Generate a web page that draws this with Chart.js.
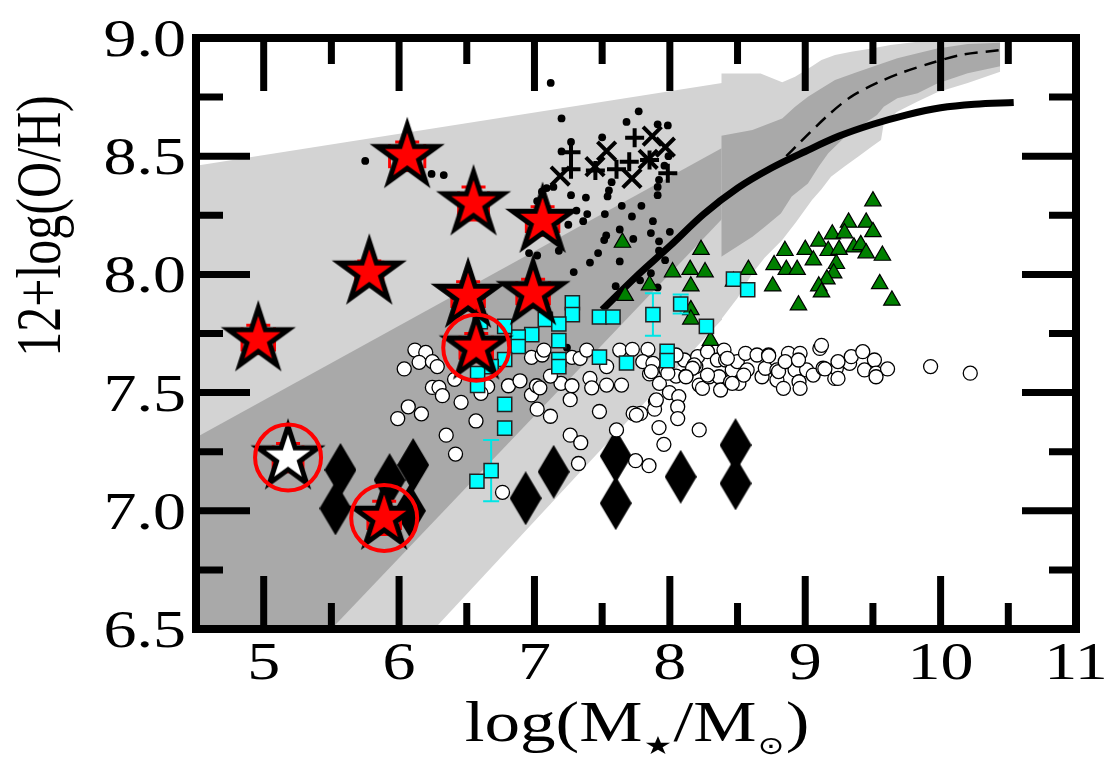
<!DOCTYPE html>
<html>
<head>
<meta charset="utf-8">
<script src="https://cdn.jsdelivr.net/npm/chart.js@4.4.1/dist/chart.umd.min.js"></script>
<style>
  html, body { margin: 0; background: #fff; }
</style>
</head>
<body>
<canvas id="chart" width="1113" height="762"></canvas>
<script>
// axis ticks
const xTicks = [5, 6, 7, 8, 9, 10, 11];
const xTickLabels = ['5', '6', '7', '8', '9', '10', '11'];
const xMinor = [5.5, 6.5, 7.5, 8.5, 9.5, 10.5];
const yTicks = [6.5, 7.0, 7.5, 8.0, 8.5, 9.0];
const yTickLabels = ['6.5', '7.0', '7.5', '8.0', '8.5', '9.0'];
const yMinor = [6.75, 7.25, 7.75, 8.25, 8.75];

// model bands (low mass, straight) -- upper / lower edges
const linLightUpper = [[4.5, 8.46], [8.386, 8.81]];
const linLightLower = [[4.5, 6.5], [6.26, 6.5], [8.386, 7.81]];
const linDarkUpper = [[4.5, 7.31], [8.386, 8.535]];
const linDarkLower = [[4.5, 6.5], [5.50, 6.5], [8.386, 8.235]];

// model bands (high mass, jagged)
const jagLightUpper = [[8.38, 8.85], [8.67, 8.85], [8.83, 8.813], [8.925, 8.836], [9.05, 8.88], [9.12, 8.907],
  [9.22, 8.928], [9.34, 8.942], [9.49, 8.956], [9.63, 8.97], [9.83, 8.984], [9.975, 8.99], [10.44, 8.99]];
const jagLightLower = [[8.38, 7.81], [8.50, 7.90], [8.61, 8.005], [8.70, 8.07], [8.83, 8.146], [8.93, 8.22],
  [9.05, 8.315], [9.12, 8.36], [9.19, 8.413], [9.29, 8.456], [9.39, 8.498], [9.49, 8.54], [9.56, 8.569],
  [9.58, 8.639], [9.68, 8.688], [9.83, 8.731], [9.975, 8.77], [10.2, 8.81], [10.44, 8.857]];
const jagDarkUpper = [[8.38, 8.587], [8.61, 8.611], [8.83, 8.66], [8.925, 8.709], [9.02, 8.752], [9.10, 8.78],
  [9.22, 8.822], [9.39, 8.857], [9.535, 8.886], [9.68, 8.914], [9.83, 8.935], [9.975, 8.956], [10.2, 8.975], [10.44, 8.98]];
const jagDarkLower = [[8.38, 8.075], [8.61, 8.159], [8.70, 8.20], [8.82, 8.258], [8.90, 8.329], [9.02, 8.385],
  [9.10, 8.456], [9.17, 8.512], [9.27, 8.569], [9.34, 8.611], [9.44, 8.639], [9.53, 8.674], [9.58, 8.709],
  [9.68, 8.745], [9.83, 8.766], [9.975, 8.808], [10.2, 8.851], [10.44, 8.88]];

const medianDashed = [[8.86, 8.50], [8.95, 8.552], [9.17, 8.674], [9.34, 8.752], [9.535, 8.811], [9.73, 8.857],
  [9.926, 8.893], [10.146, 8.928], [10.44, 8.949]];

const mzrCurve = [[7.50, 7.85], [7.75, 7.99], [8.00, 8.12], [8.25, 8.255], [8.50, 8.365], [8.75, 8.45],
  [9.00, 8.52], [9.25, 8.585], [9.50, 8.635], [9.75, 8.675], [10.00, 8.705], [10.25, 8.72], [10.54, 8.727]];

// black dots
const dotPts = [[7.12, 8.81], [5.75, 8.48], [6.24, 8.425], [6.33, 8.42], [7.20, 8.66], [7.77, 8.69], [7.68, 8.645],
  [7.91, 8.635], [7.985, 8.63], [7.50, 8.58], [7.27, 8.56], [7.20, 8.52], [7.99, 8.50], [7.96, 8.46], [7.09, 8.365],
  [7.14, 8.37], [7.055, 8.35], [7.27, 8.335], [7.38, 8.325], [7.54, 8.33], [7.57, 8.39], [7.91, 8.37], [7.91, 8.335],
  [7.02, 8.31], [7.31, 8.27], [7.39, 8.255], [7.645, 8.29], [7.79, 8.29], [7.52, 8.255], [7.72, 8.245], [7.36, 8.225],
  [7.25, 8.21], [7.875, 8.225], [7.63, 8.19], [7.53, 8.165], [7.515, 8.145], [7.86, 8.175], [8.0, 8.18], [7.73, 8.15],
  [7.92, 8.14], [6.96, 8.09], [7.02, 8.08], [7.47, 8.09], [7.41, 8.05], [7.63, 8.055], [7.965, 8.06], [7.92, 8.10],
  [7.29, 8.01], [7.60, 7.95], [7.86, 8.005], [7.78, 7.975], [7.91, 7.945], [7.55, 8.355], [7.92, 8.40], [7.24, 7.69],
  [7.18, 8.10]];
const plusPts = [[7.27, 8.517], [7.27, 8.445], [7.74, 8.578], [7.70, 8.477], [7.606, 8.445], [7.985, 8.428],
  [7.85, 8.484], [7.45, 8.44]];
const crossPts = [[7.19, 8.416], [7.533, 8.522], [7.447, 8.456], [7.87, 8.585], [7.967, 8.538], [7.84, 8.487], [7.72, 8.406]];

// green triangles
const triPts = [[9.50, 8.31], [9.32, 8.22], [9.45, 8.22], [9.50, 8.18], [9.20, 8.17], [9.29, 8.175], [9.10, 8.14],
  [9.00, 8.105], [8.85, 8.10], [9.17, 8.10], [9.25, 8.105], [9.36, 8.115], [9.41, 8.125], [9.45, 8.09], [9.57, 8.08],
  [8.77, 8.04], [8.86, 8.02], [8.94, 8.02], [9.06, 8.06], [9.23, 8.045], [9.21, 8.005], [9.16, 7.98], [9.10, 7.95],
  [9.12, 7.925], [8.76, 7.95], [8.58, 8.02], [9.55, 7.96], [9.64, 7.89], [8.95, 7.87], [8.23, 8.105], [8.15, 8.02],
  [8.26, 8.01], [8.155, 7.95], [8.155, 7.85], [8.155, 7.81], [8.30, 7.72], [7.65, 8.135], [7.85, 7.955], [8.02, 8.01],
  [7.67, 7.91], [8.47, 7.97]];

// cyan squares and their vertical errors
const sqPts = [[7.28, 7.88], [7.28, 7.83], [7.08, 7.81], [7.18, 7.79], [7.48, 7.82], [7.58, 7.82], [7.875, 7.83],
  [8.08, 7.875], [8.27, 7.78], [6.98, 7.745], [6.88, 7.735], [6.88, 7.695], [6.78, 7.78], [7.18, 7.72], [7.18, 7.64],
  [7.18, 7.61], [6.78, 7.64], [6.68, 7.61], [6.58, 7.58], [6.58, 7.53], [7.48, 7.65], [7.68, 7.625], [7.98, 7.675],
  [7.98, 7.635], [6.78, 7.45], [6.78, 7.35], [6.68, 7.17], [6.575, 7.125], [6.60, 7.80], [8.47, 7.98], [8.575, 7.935]];
const sqErrY = [0, 0, 0, 0, 0, 0, 0.09, 0.04, 0, 0, 0, 0, 0, 0, 0, 0, 0, 0, 0, 0, 0, 0, 0, 0, 0, 0, 0.13, 0, 0, 0, 0];

// open circles
const openPts = [[6.117, 7.68], [6.197, 7.67], [6.148, 7.628], [6.246, 7.631], [6.282, 7.61], [6.038, 7.60],
  [6.41, 7.556], [6.246, 7.522], [6.295, 7.522], [6.32, 7.487], [6.458, 7.459], [6.068, 7.44], [6.165, 7.41],
  [5.99, 7.39], [6.568, 7.38], [6.348, 7.32], [6.417, 7.24], [6.764, 7.078], [6.654, 7.525], [6.605, 7.497],
  [6.808, 7.529], [6.893, 7.55], [6.978, 7.49], [7.015, 7.529], [7.04, 7.52], [7.02, 7.43], [7.118, 7.40],
  [7.196, 7.539], [7.277, 7.529], [7.264, 7.47], [7.118, 7.57], [6.978, 7.649], [7.057, 7.659], [7.07, 7.68],
  [7.277, 7.649], [7.337, 7.645], [7.386, 7.68], [7.41, 7.56], [7.423, 7.52], [7.533, 7.532], [7.643, 7.532],
  [7.533, 7.61], [7.63, 7.68], [7.723, 7.683], [7.838, 7.683], [7.80, 7.631], [7.875, 7.624], [7.85, 7.579],
  [7.923, 7.539], [7.997, 7.50], [8.066, 7.483], [8.058, 7.44], [7.894, 7.462], [7.887, 7.43], [8.058, 7.39],
  [7.92, 7.352], [7.956, 7.281], [7.729, 7.412], [7.784, 7.412], [7.48, 7.42], [7.264, 7.32], [7.342, 7.288],
  [7.325, 7.20], [7.606, 7.342], [7.747, 7.212], [7.846, 7.191], [8.217, 7.342], [7.972, 7.596], [8.046, 7.57],
  [8.119, 7.57], [8.192, 7.61], [8.217, 7.532], [8.107, 7.638], [8.205, 7.652], [7.753, 7.405], [7.90, 7.469],
  [7.863, 7.589], [7.985, 7.582], [8.046, 7.659], [8.18, 7.617], [8.241, 7.518], [8.278, 7.673], [8.29, 7.567],
  [8.351, 7.638], [8.363, 7.567], [8.375, 7.511], [8.40, 7.68], [8.412, 7.638], [8.449, 7.546], [8.461, 7.596],
  [8.498, 7.631], [8.51, 7.539], [8.559, 7.666], [8.571, 7.596], [8.644, 7.659], [8.681, 7.567], [8.729, 7.659],
  [8.705, 7.603], [8.791, 7.596], [8.791, 7.553], [8.839, 7.518], [8.864, 7.631], [8.876, 7.666], [8.925, 7.596],
  [8.954, 7.546], [8.962, 7.666], [9.01, 7.596], [9.059, 7.574], [9.108, 7.687], [9.132, 7.603], [9.218, 7.56],
  [9.23, 7.603], [9.328, 7.624], [9.34, 7.652], [9.425, 7.673], [9.438, 7.596], [9.511, 7.638], [9.523, 7.582],
  [9.608, 7.60], [9.926, 7.61], [10.219, 7.582], [8.168, 7.603], [8.425, 7.645], [8.546, 7.574], [8.803, 7.589],
  [8.852, 7.631], [8.95, 7.638], [9.145, 7.60], [9.242, 7.56], [9.242, 7.631], [8.962, 7.518], [8.461, 7.539],
  [8.278, 7.574], [8.119, 7.567], [9.12, 7.70], [9.523, 7.567], [8.73, 7.655]];

// black thin diamonds
const diaPts = [[5.567, 7.173], [5.53, 7.01], [5.93, 7.13], [6.104, 7.194], [6.08, 7.0], [6.935, 7.053],
  [7.142, 7.165], [7.60, 7.232], [7.60, 7.032], [8.08, 7.144], [8.485, 7.278], [8.485, 7.116]];

// red stars, with small x/y errors
const starPts = [[6.06, 8.50], [6.55, 8.30], [7.06, 8.226], [5.78, 8.007], [6.51, 7.909], [6.99, 7.92],
  [4.96, 7.725], [6.57, 7.69], [5.89, 6.97]];
const starErrX = [0.13, 0.11, 0.12, 0.1, 0.12, 0.12, 0.12, 0.12, 0.12];
const starErrY = [0.06, 0.07, 0.06, 0.05, 0.06, 0.06, 0.06, 0.06, 0.07];
const whiteStarPts = [[5.18, 7.225]];
const ringPts = [[6.57, 7.69], [5.89, 6.97], [5.18, 7.225]];

const toXY = a => a.map(([x, y]) => ({ x, y }));

// marker images
function starImage(fill) {
  const c = document.createElement('canvas');
  c.width = 96; c.height = 96;
  const g = c.getContext('2d');
  const R = 31.5, r = R * 0.382;
  g.beginPath();
  for (let i = 0; i < 10; i++) {
    const a = -Math.PI / 2 + i * Math.PI / 5;
    const rr = i % 2 ? r : R;
    const px = 48 + rr * Math.cos(a), py = 48 + rr * Math.sin(a);
    i ? g.lineTo(px, py) : g.moveTo(px, py);
  }
  g.closePath();
  g.fillStyle = fill;
  g.fill();
  g.lineWidth = 5;
  g.lineJoin = 'miter';
  g.strokeStyle = '#000';
  g.stroke();
  return c;
}
function diamondImage() {
  const c = document.createElement('canvas');
  c.width = 32; c.height = 54;
  const g = c.getContext('2d');
  g.beginPath();
  g.moveTo(16, 0); g.lineTo(32, 27); g.lineTo(16, 54); g.lineTo(0, 27);
  g.closePath();
  g.fillStyle = '#000';
  g.fill();
  return c;
}
const redStar = starImage('#ff0000');
const whiteStar = starImage('#ffffff');
const diamond = diamondImage();

// error bars drawn just under the markers of their dataset
const errorBars = {
  id: 'errorBars',
  beforeDatasetDraw(chart, args) {
    const ds = chart.data.datasets[args.index];
    if (!ds.errX && !ds.errY) return;
    const xs = chart.scales.x, ys = chart.scales.y, ctx = chart.ctx;
    const cap = ds.errCap;
    ctx.save();
    ctx.strokeStyle = ds.errColor;
    ctx.lineWidth = ds.errWidth;
    ctx.beginPath();
    ds.data.forEach((p, i) => {
      const px = xs.getPixelForValue(p.x), py = ys.getPixelForValue(p.y);
      const ey = ds.errY ? ds.errY[i] : 0;
      const ex = ds.errX ? ds.errX[i] : 0;
      if (ey) {
        const t = ys.getPixelForValue(p.y + ey), b = ys.getPixelForValue(p.y - ey);
        ctx.moveTo(px, t); ctx.lineTo(px, b);
        ctx.moveTo(px - cap, t); ctx.lineTo(px + cap, t);
        ctx.moveTo(px - cap, b); ctx.lineTo(px + cap, b);
      }
      if (ex) {
        const l = xs.getPixelForValue(p.x - ex), r = xs.getPixelForValue(p.x + ex);
        ctx.moveTo(l, py); ctx.lineTo(r, py);
        ctx.moveTo(l, py - cap); ctx.lineTo(l, py + cap);
        ctx.moveTo(r, py - cap); ctx.lineTo(r, py + cap);
      }
    });
    ctx.stroke();
    ctx.restore();
  }
};

const SX = 1.27; // text in the original is stretched sideways

// frame, inward ticks and all labels
const frameAndText = {
  id: 'frameAndText',
  afterDraw(chart) {
    const { ctx, chartArea: a } = chart;
    const xs = chart.scales.x, ys = chart.scales.y;
    ctx.save();
    ctx.strokeStyle = '#000';
    ctx.lineCap = 'butt';
    ctx.lineWidth = 7;
    ctx.beginPath();
    const vtick = (v, len) => {
      const p = xs.getPixelForValue(v);
      ctx.moveTo(p, a.bottom); ctx.lineTo(p, a.bottom - len);
      ctx.moveTo(p, a.top); ctx.lineTo(p, a.top + len);
    };
    const htick = (v, len) => {
      const p = ys.getPixelForValue(v);
      ctx.moveTo(a.left, p); ctx.lineTo(a.left + len, p);
      ctx.moveTo(a.right, p); ctx.lineTo(a.right - len, p);
    };
    xTicks.forEach(v => vtick(v, 53));
    xMinor.forEach(v => vtick(v, 26));
    yTicks.forEach(v => htick(v, 54));
    yMinor.forEach(v => htick(v, 27));
    ctx.stroke();
    ctx.lineWidth = 8;
    ctx.strokeRect(a.left, a.top, a.right - a.left, a.bottom - a.top);

    ctx.fillStyle = '#000';
    ctx.font = '52px "Liberation Serif"';
    ctx.textBaseline = 'alphabetic';
    ctx.save();
    ctx.scale(SX, 1);
    ctx.textAlign = 'center';
    xTicks.forEach((v, i) => ctx.fillText(xTickLabels[i], xs.getPixelForValue(v) / SX, 679));
    ctx.textAlign = 'right';
    yTicks.forEach((v, i) => ctx.fillText(yTickLabels[i], 186 / SX, ys.getPixelForValue(v) + 18));
    ctx.restore();

    // y title
    ctx.save();
    ctx.translate(45, 226);
    ctx.rotate(-Math.PI / 2);
    ctx.scale(1, SX);
    ctx.font = '50px "Liberation Serif"';
    ctx.textAlign = 'center';
    ctx.fillText('12+log(O/H)', 0, 12);
    ctx.restore();

    // x title with subscripts
    const parts = [
      ['log(M', false], ['\u2605', true], ['/M', false], ['\u2299', true], [')', false]
    ];
    const mainFont = '56px "Liberation Serif"', subFont = '25px "DejaVu Sans"';
    ctx.save();
    ctx.scale(SX, 1);
    ctx.textAlign = 'left';
    let total = 0;
    parts.forEach(([t, sub]) => { ctx.font = sub ? subFont : mainFont; total += ctx.measureText(t).width + (sub ? 2 : 0); });
    let x = 637 / SX - total / 2;
    parts.forEach(([t, sub]) => {
      ctx.font = sub ? subFont : mainFont;
      ctx.fillText(t, x + (sub ? 1 : 0), sub ? 754 : 741);
      x += ctx.measureText(t).width + (sub ? 2 : 0);
    });
    ctx.restore();
    ctx.restore();
  }
};

const bandStyle = (color) => ({
  type: 'line', borderWidth: 0, borderColor: 'rgba(0,0,0,0)', pointRadius: 0,
  backgroundColor: color, tension: 0
});

new Chart(document.getElementById('chart'), {
  type: 'scatter',
  data: {
    datasets: [
      { ...bandStyle('#d3d3d3'), data: toXY(linLightUpper), fill: '+1', order: 100 },
      { ...bandStyle('#d3d3d3'), data: toXY(linLightLower), fill: false, order: 100 },
      { ...bandStyle('#a9a9a9'), data: toXY(linDarkUpper), fill: '+1', order: 99 },
      { ...bandStyle('#a9a9a9'), data: toXY(linDarkLower), fill: false, order: 99 },
      { ...bandStyle('#d3d3d3'), data: toXY(jagLightUpper), fill: '+1', order: 98 },
      { ...bandStyle('#d3d3d3'), data: toXY(jagLightLower), fill: false, order: 98 },
      { ...bandStyle('#a9a9a9'), data: toXY(jagDarkUpper), fill: '+1', order: 97 },
      { ...bandStyle('#a9a9a9'), data: toXY(jagDarkLower), fill: false, order: 97 },
      { type: 'line', data: toXY(medianDashed), borderColor: '#000', borderWidth: 2.5, borderDash: [13, 8],
        pointRadius: 0, fill: false, tension: 0.3, order: 96 },
      { data: toXY(dotPts), pointStyle: 'circle', pointRadius: 3.9, backgroundColor: '#000', borderWidth: 0, order: 95 },
      { data: toXY(plusPts), pointStyle: 'cross', pointRadius: 9.5, borderColor: '#000', borderWidth: 4, order: 94 },
      { data: toXY(crossPts), pointStyle: 'crossRot', pointRadius: 13, borderColor: '#000', borderWidth: 4, order: 94 },
      { type: 'line', data: toXY(mzrCurve), borderColor: '#000', borderWidth: 7, pointRadius: 0, fill: false,
        cubicInterpolationMode: 'monotone', order: 93 },
      { data: toXY(diaPts), pointStyle: diamond, order: 92 },
      { data: toXY(openPts), pointStyle: 'circle', pointRadius: 7, backgroundColor: '#fff', borderColor: '#000',
        borderWidth: 1.3, order: 91 },
      { data: toXY(triPts), pointStyle: 'triangle', pointRadius: 9.5, backgroundColor: '#008000', borderColor: '#000',
        borderWidth: 1.2, order: 90 },
      { data: toXY(sqPts), pointStyle: 'rect', pointRadius: 10, backgroundColor: '#00ffff', borderColor: '#222',
        borderWidth: 1.5, errY: sqErrY, errColor: '#00e5e5', errWidth: 2, errCap: 8, order: 89 },
      { data: toXY(starPts), pointStyle: redStar, errX: starErrX, errY: starErrY, errColor: '#ff0000',
        errWidth: 3, errCap: 12, order: 88 },
      { data: toXY(whiteStarPts), pointStyle: whiteStar, errX: [0.11], errY: [0.06], errColor: '#ff0000',
        errWidth: 3, errCap: 12, order: 88 },
      { data: toXY(ringPts), pointStyle: 'circle', pointRadius: 33, backgroundColor: 'rgba(0,0,0,0)',
        borderColor: '#ff0000', borderWidth: 4, order: 87 }
    ]
  },
  options: {
    responsive: false,
    devicePixelRatio: 1,
    animation: false,
    events: [],
    layout: { padding: { left: 196, right: 29, top: 38, bottom: 133 } },
    plugins: { legend: { display: false }, tooltip: { enabled: false } },
    scales: {
      x: { type: 'linear', min: 4.5, max: 11, display: false },
      y: { type: 'linear', min: 6.5, max: 9, display: false }
    }
  },
  plugins: [errorBars, frameAndText]
});
</script>
</body>
</html>
